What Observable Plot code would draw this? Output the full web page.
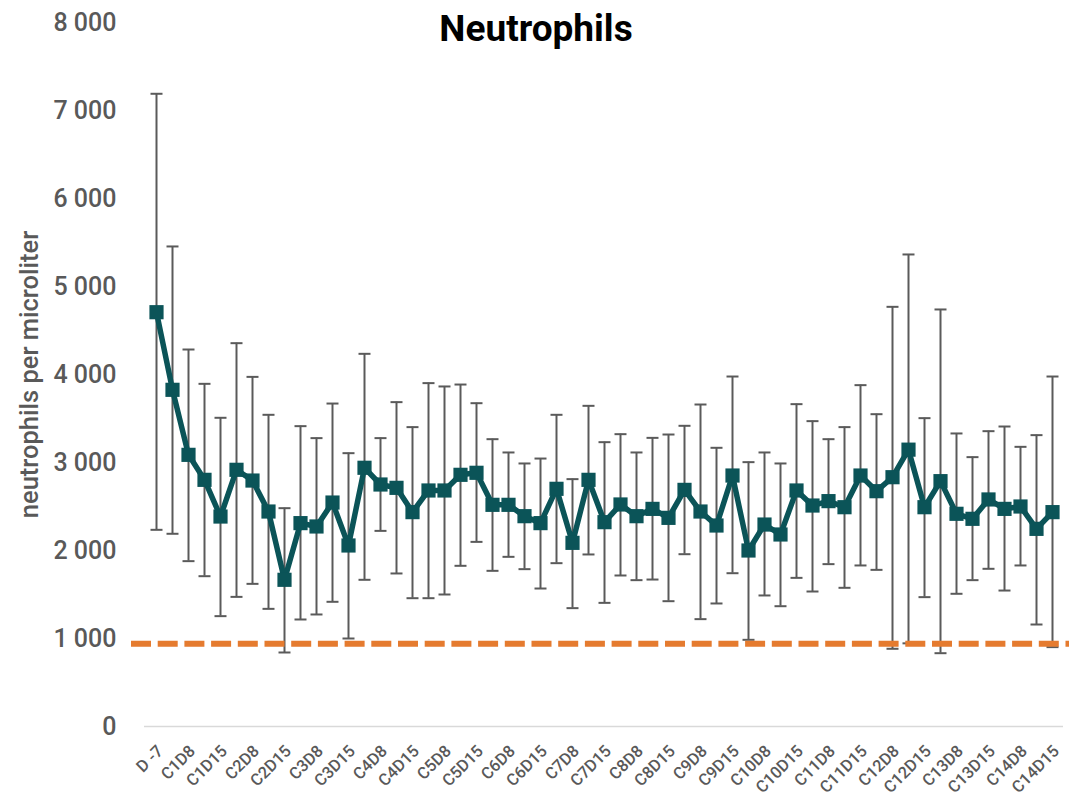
<!DOCTYPE html>
<html>
<head>
<meta charset="utf-8">
<script src="https://cdn.jsdelivr.net/npm/d3@7"></script>
<script src="https://cdn.jsdelivr.net/npm/@observablehq/plot@0.6"></script>
<style>
  body { margin: 0; background: #fff; }
  svg { font-family: Roboto, sans-serif; }
</style>
</head>
<body>
<div id="chart"></div>
<script>
const visits = [
  "D -7",
  "C1D1","C1D8","C1D11","C1D15",
  "C2D1","C2D8","C2D11","C2D15",
  "C3D1","C3D8","C3D11","C3D15",
  "C4D1","C4D8","C4D11","C4D15",
  "C5D1","C5D8","C5D11","C5D15",
  "C6D1","C6D8","C6D11","C6D15",
  "C7D1","C7D8","C7D11","C7D15",
  "C8D1","C8D8","C8D11","C8D15",
  "C9D1","C9D8","C9D11","C9D15",
  "C10D1","C10D8","C10D11","C10D15",
  "C11D1","C11D8","C11D11","C11D15",
  "C12D1","C12D8","C12D11","C12D15",
  "C13D1","C13D8","C13D11","C13D15",
  "C14D1","C14D8","C14D11","C14D15"
];
const meanCount = [
  4708,
  3826, 3087, 2803, 2386,
  2917, 2795, 2443, 1667,
  2311, 2273, 2545, 2057,
  2940, 2750, 2712, 2436,
  2682, 2682, 2860, 2883,
  2519, 2519, 2390, 2311,
  2701, 2087, 2803, 2322,
  2523, 2390, 2473, 2371,
  2689, 2443, 2284, 2852,
  2000, 2295, 2182, 2682,
  2511, 2561, 2492, 2852,
  2674, 2833, 3146, 2492,
  2788, 2417, 2360, 2580,
  2473, 2500, 2246, 2436
];
const upperCount = [
  7190,
  5455, 4284, 3894, 3508,
  4356, 3973, 3542, 2481,
  3413, 3277, 3670, 3106,
  4235, 3277, 3686, 3402,
  3902, 3864, 3886, 3674,
  3265, 3114, 2989, 3045,
  3542, 2811, 3644, 3231,
  3322, 3114, 3280, 3318,
  3417, 3659, 3167, 3977,
  3004, 3114, 2989, 3663,
  3470, 3265, 3402, 3879,
  3549, 4769, 5364, 3504,
  4739, 3330, 3061, 3356,
  3409, 3178, 3311, 3977
];
const lowerCount = [
  2235,
  2190, 1879, 1708, 1254,
  1473, 1621, 1337, 841,
  1216, 1273, 1417, 1000,
  1667, 2223, 1739, 1458,
  1458, 1500, 1826, 2098,
  1769, 1928, 1788, 1568,
  1856, 1345, 1955, 1405,
  1716, 1663, 1670, 1424,
  1958, 1220, 1398, 1742,
  985, 1489, 1367, 1689,
  1534, 1845, 1576, 1830,
  1780, 883, 945, 1470,
  833, 1508, 1663, 1792,
  1545, 1830, 1159, 902
];
const tickLabels = [
  "D -7","C1D8","C1D15","C2D8","C2D15","C3D8","C3D15","C4D8","C4D15","C5D8","C5D15",
  "C6D8","C6D15","C7D8","C7D15","C8D8","C8D15","C9D8","C9D15","C10D8","C10D15",
  "C11D8","C11D15","C12D8","C12D15","C13D8","C13D15","C14D8","C14D15"
];
const yTicks = [0, 1000, 2000, 3000, 4000, 5000, 6000, 7000, 8000];
const threshold = [940];
const titleText = ["Neutrophils"];
const yTitleText = ["neutrophils per microliter"];

const rows = visits.map((v, i) => ({visit: v, mean: meanCount[i], upper: upperCount[i], lower: lowerCount[i]}));
const fmt = d => d3.format(",")(d).replace(/,/g, " ");

const teal = "#0b5458";
const gray = "#5a5a5a";
const orange = "#e57b2f";
const capSymbol = {draw(ctx) { ctx.moveTo(-6, 0); ctx.lineTo(6, 0); }};

const chart = Plot.plot({
  width: 1069,
  height: 805,
  marginLeft: 144,
  marginRight: 6,
  marginTop: 22,
  marginBottom: 79,
  style: {fontFamily: "Roboto, sans-serif", background: "#fff"},
  x: {type: "point", domain: visits, padding: 0.5, label: null},
  y: {domain: [0, 8000], label: null},
  marks: [
    Plot.ruleY([0], {stroke: "#d9d9d9", strokeWidth: 1.5}),
    Plot.axisY({ticks: yTicks, tickFormat: fmt, tickSize: 0, tickPadding: 28, fontSize: 25, fontWeight: 500, color: "#595959", label: null}),
    Plot.axisX({ticks: tickLabels, tickSize: 0, tickRotate: -45, tickPadding: 22, dx: 4, fontSize: 16.5, fontWeight: 500, color: "#595959", label: null}),
    Plot.ruleX(rows, {x: "visit", y1: "lower", y2: "upper", stroke: gray, strokeWidth: 2}),
    Plot.dot(rows, {x: "visit", y: "upper", symbol: capSymbol, stroke: gray, strokeWidth: 2, fill: "none"}),
    Plot.dot(rows, {x: "visit", y: "lower", symbol: capSymbol, stroke: gray, strokeWidth: 2, fill: "none"}),
    Plot.ruleY(threshold, {stroke: orange, strokeWidth: 6, strokeDasharray: "20 6.7", insetLeft: -13, insetRight: -6}),
    Plot.line(rows, {x: "visit", y: "mean", stroke: teal, strokeWidth: 5.5}),
    Plot.dot(rows, {x: "visit", y: "mean", symbol: "square", r: 8, fill: teal, stroke: "none"}),
    Plot.text(titleText, {text: d => d, frameAnchor: "top", dx: -68, dy: 7, lineAnchor: "middle", fontSize: 37, fontWeight: "bold", fill: "#000"}),
    Plot.text(yTitleText, {text: d => d, frameAnchor: "left", textAnchor: "middle", rotate: -90, dx: -115, fontSize: 25.5, fontWeight: 500, fill: "#595959"})
  ]
});
document.getElementById("chart").appendChild(chart);
</script>
</body>
</html>
